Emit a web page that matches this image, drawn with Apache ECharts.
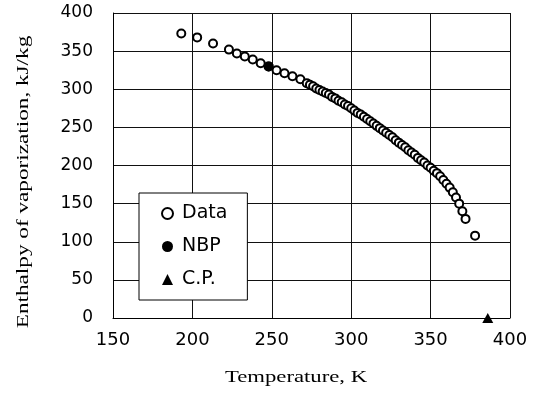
<!DOCTYPE html>
<html>
<head>
<meta charset="utf-8">
<script src="https://cdn.jsdelivr.net/npm/echarts@6/dist/echarts.min.js"></script>
<style>
html,body{margin:0;padding:0;background:#fff;}
#c{width:536px;height:395px;}
</style>
</head>
<body>
<div id="c"></div>
<script>
// Data series: temperature (K) and enthalpy of vaporization (kJ/kg)
const dataT = [193,203,213,223,228,233,238,243,248,253,258,263,268,
  272,274,276,278,280,282,284,286,288,290,292,294,296,298,300,302,304,306,308,310,
  312,314,316,318,320,322,324,326,328,330,332,334,336,338,340,342,344,346,348,350,
  352,354,356,358,360,362,364,366,368,370,372,378];
const dataH = [373,368,360,352,347,343,339,334,330,325,321,317,313,
  308,306,304,301,299,297,295,293,290,288,285,283,280,278,275,272,269,267,264,261,
  258,255,252,249,246,243,240,237,233,230,227,224,220,217,214,210,207,204,200,197,
  193,190,186,181,176,171,165,158,150,140,130,108];
// Normal boiling point
const nbpT = [248];
const nbpH = [330];
// Critical point
const cpT = [386];
const cpH = [0];

const xTicks = {min:150, max:400, step:50};
const yTicks = {min:0, max:400, step:50};

const zip = (a,b) => a.map((v,i)=>[v,b[i]]);

const chart = echarts.init(document.getElementById('c'));
chart.setOption({
  animation:false,
  backgroundColor:'#fff',
  grid:{left:113, right:26, top:13, bottom:77, containLabel:false},
  xAxis:{
    type:'value', min:xTicks.min, max:xTicks.max, interval:xTicks.step,
    axisLine:{show:true, lineStyle:{color:'#000', width:1}},
    axisTick:{show:false},
    axisLabel:{color:'#000', fontSize:18, fontFamily:'DejaVu Sans', margin:13},
    splitLine:{show:true, lineStyle:{color:'#111', width:1}}
  },
  yAxis:{
    type:'value', min:yTicks.min, max:yTicks.max, interval:yTicks.step,
    axisLine:{show:true, lineStyle:{color:'#000', width:1}},
    axisTick:{show:false},
    axisLabel:{color:'#000', fontSize:17, fontFamily:'DejaVu Sans', margin:20},
    splitLine:{show:true, lineStyle:{color:'#111', width:1}}
  },
  legend:{
    orient:'vertical', left:139, top:193,
    padding:[11,20,11,22], itemGap:14,
    itemWidth:11, itemHeight:11,
    backgroundColor:'#fff', borderColor:'#000', borderWidth:1,
    textStyle:{color:'#000', fontSize:19, fontFamily:'DejaVu Sans', padding:[0,0,0,4]},
    data:['Data','NBP','C.P.']
  },
  series:[
    {name:'Data', type:'scatter', data:zip(dataT,dataH), symbol:'circle', symbolSize:8,
     itemStyle:{color:'#fff', borderColor:'#000', borderWidth:2, opacity:1}, z:2},
    {name:'NBP', type:'scatter', data:zip(nbpT,nbpH), symbol:'circle', symbolSize:10,
     itemStyle:{color:'#000', opacity:1}, z:3},
    {name:'C.P.', type:'scatter', data:zip(cpT,cpH), symbol:'triangle', symbolSize:[11,10],
     itemStyle:{color:'#000', opacity:1}, clip:false, z:3}
  ],
  graphic:[
    {type:'text', x:296, y:378, scaleX:1.42, scaleY:1,
     style:{text:'Temperature, K', font:'16px "Liberation Serif"', fill:'#000',
            textAlign:'center', textVerticalAlign:'middle'}},
    {type:'text', x:24, y:182, rotation:Math.PI/2, scaleX:1.45, scaleY:1,
     style:{text:'Enthalpy of vaporization, kJ/kg', font:'16px "Liberation Serif"', fill:'#000',
            textAlign:'center', textVerticalAlign:'middle'}}
  ]
});
</script>
</body>
</html>
